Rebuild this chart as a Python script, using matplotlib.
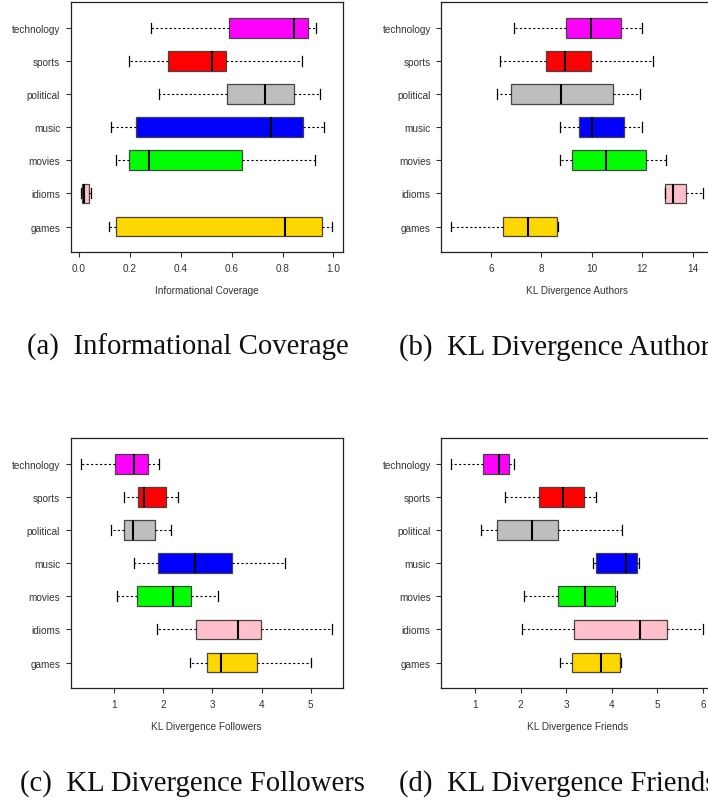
import matplotlib
matplotlib.use('Agg')
import matplotlib.pyplot as plt

# categorias (de baixo para cima) e cores de cada caixa
categorias = ['games', 'idioms', 'movies', 'music', 'political', 'sports', 'technology']
cores = ['#FFD700', '#FFC0CB', '#00FF00', '#0000FF', '#BEBEBE', '#FF0000', '#FF00FF']

# resumo de cada caixa: [bigode inf, Q1, mediana, Q3, bigode sup]
cobertura = [[0.118, 0.148, 0.809, 0.954, 0.996],
             [0.008, 0.012, 0.020, 0.042, 0.050],
             [0.145, 0.199, 0.276, 0.640, 0.928],
             [0.126, 0.226, 0.754, 0.882, 0.961],
             [0.315, 0.584, 0.730, 0.846, 0.948],
             [0.196, 0.349, 0.524, 0.579, 0.878],
             [0.284, 0.590, 0.845, 0.899, 0.932]]

autores = [[4.43, 6.49, 7.47, 8.62, 8.64],
           [12.91, 12.92, 13.21, 13.75, 14.41],
           [8.74, 9.20, 10.58, 12.15, 12.94],
           [8.74, 9.49, 10.02, 11.29, 11.99],
           [6.24, 6.79, 8.79, 10.85, 11.90],
           [6.34, 8.17, 8.95, 9.97, 12.41],
           [6.91, 8.98, 9.98, 11.16, 11.99]]

seguidores = [[2.54, 2.88, 3.18, 3.91, 5.01],
              [1.88, 2.67, 3.52, 3.99, 5.44],
              [1.05, 1.47, 2.19, 2.56, 3.11],
              [1.40, 1.89, 2.65, 3.40, 4.48],
              [0.94, 1.19, 1.38, 1.84, 2.16],
              [1.20, 1.49, 1.60, 2.05, 2.30],
              [0.32, 1.007, 1.41, 1.68, 1.92]]

amigos = [[2.87, 3.13, 3.77, 4.17, 4.19],
          [2.02, 3.16, 4.62, 5.20, 6.00],
          [2.07, 2.81, 3.42, 4.07, 4.12],
          [3.59, 3.66, 4.32, 4.56, 4.60],
          [1.12, 1.48, 2.24, 2.81, 4.23],
          [1.66, 2.41, 2.92, 3.38, 3.66],
          [0.48, 1.18, 1.52, 1.75, 1.86]]

ticks_cobertura = [0.0, 0.2, 0.4, 0.6, 0.8, 1.0]
ticks_autores = [6, 8, 10, 12, 14]
ticks_seguidores = [1, 2, 3, 4, 5]
ticks_amigos = [1, 2, 3, 4, 5, 6]

plt.rcParams['font.family'] = ['Liberation Sans', 'DejaVu Sans']

W, H = 708, 803
fig = plt.figure(figsize=(W / 100, H / 100), dpi=100)


def caixa(esq, topo, larg, alt, dados, ticks, fmt, rotulo):
    # posição em pixels (origem no canto superior esquerdo)
    ax = fig.add_axes([esq / W, 1 - (topo + alt) / H, larg / W, alt / H])
    stats = [dict(whislo=d[0], q1=d[1], med=d[2], q3=d[3], whishi=d[4], fliers=[])
             for d in dados]
    bp = ax.bxp(stats, positions=range(1, len(dados) + 1), orientation='horizontal',
                widths=0.6, capwidths=0.3, patch_artist=True, showfliers=False,
                boxprops=dict(edgecolor='#444444', linewidth=0.9),
                medianprops=dict(color='black', linewidth=1.5),
                whiskerprops=dict(color='black', linewidth=0.8, linestyle=(0, (2, 2))),
                capprops=dict(color='black', linewidth=0.9))
    for p, c in zip(bp['boxes'], cores):
        p.set_facecolor(c)
    # limites como no R: 4% além dos dados
    lo = min(d[0] for d in dados)
    hi = max(d[4] for d in dados)
    pad = 0.04 * (hi - lo)
    ax.set_xlim(lo - pad, hi + pad)
    ax.set_ylim(0.22, len(dados) + 0.78)
    ax.set_yticks(range(1, len(dados) + 1))
    ax.set_yticklabels(categorias)
    ax.set_xticks(ticks)
    ax.set_xticklabels([fmt.format(t) for t in ticks])
    ax.tick_params(direction='out', length=3.6, width=0.8, labelsize=7.2,
                   pad=4, colors='#333333')
    for s in ax.spines.values():
        s.set_linewidth(0.9)
        s.set_color('#222222')
    ax.set_xlabel(rotulo, fontsize=7.2, labelpad=9, color='#333333')
    return ax


caixa(70.7, 3.3, 271.8, 250, cobertura, ticks_cobertura, '{:.1f}', 'Informational Coverage')
caixa(441.3, 3.3, 271.8, 250, autores, ticks_autores, '{:d}', 'KL Divergence Authors')
caixa(70.7, 439.3, 271.8, 250, seguidores, ticks_seguidores, '{:d}', 'KL Divergence Followers')
caixa(441.3, 439.3, 271.8, 250, amigos, ticks_amigos, '{:d}', 'KL Divergence Friends')

# legendas das subfiguras
legenda = dict(fontsize=20.7, family=['Liberation Serif', 'DejaVu Serif'],
               ha='left', va='baseline', color='#111111')
fig.text(26.7 / W, 1 - 355 / H, '(a)  Informational Coverage', **legenda)
fig.text(399 / W, 1 - 355 / H, '(b)  KL Divergence Authors', **legenda)
fig.text(20.3 / W, 1 - 791 / H, '(c)  KL Divergence Followers', **legenda)
fig.text(399 / W, 1 - 791 / H, '(d)  KL Divergence Friends', **legenda)

plt.savefig('out.png', dpi=100)
